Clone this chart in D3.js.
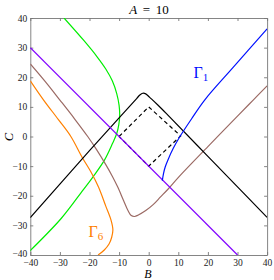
<!DOCTYPE html>
<html><head><meta charset="utf-8">
<script src="https://cdn.jsdelivr.net/npm/d3@7"></script>
<style>body{margin:0;background:#fff}svg{display:block}</style>
</head><body>
<script>
const ticksB = [-40,-30,-20,-10,0,10,20,30,40];
const ticksC = [-40,-30,-20,-10,0,10,20,30,40];

const blackSolid = [[-40,-27.4],[-20,-4.8],[-10,6.3],[-6,10.7],[-4,12.9],[-3,14.0],[-2,14.6],[-1,14.4],[0,13.5],[1,12.6],[3,10.7],[6,7.7],[20,-6.7],[40,-27.3]];
const blackDashed = [[-10,0],[0,10],[10.8,0.2],[0,-10],[-10,0]];
const purple = [[-40,30],[30,-40]];
const green = [[-28.6,40],[-22,32.5],[-17.5,27],[-14.5,22.8],[-12.3,18.8],[-10.8,14.5],[-10,10.5],[-9.8,7],[-10.1,4],[-10.8,1],[-12.2,-2.3],[-14.9,-7.9],[-18.8,-13.6],[-22.2,-18.1],[-29.5,-27.6],[-40.2,-38.7]];
const orange = [[-40,18.8],[-35.5,12.3],[-30.5,5.7],[-26.3,0],[-22.5,-7],[-19.5,-12],[-17,-17],[-14.5,-23.5],[-12.8,-28],[-12.1,-31.5],[-12.5,-34],[-13.4,-36.3],[-15,-38.3],[-17.1,-40]];
const brown = [[-40,24.5],[-35,18.6],[-30,12.3],[-25,5.9],[-20.6,0],[-17.5,-4.6],[-14.5,-9.5],[-12.3,-13.4],[-10.5,-17],[-8.5,-21.6],[-7.0,-25.0],[-5.9,-26.7],[-4.8,-27.0],[-3.5,-26.5],[-1,-25],[1.5,-23],[4,-20.4],[6.5,-17.8],[10.5,-13.3],[20,-3.4],[30,6.9],[35.3,12.3],[40,17.1]];
const blue = [[4.6,-14.9],[5.0,-12.5],[5.6,-10.2],[6.5,-7.9],[8.3,-4],[10.5,-0.1],[14.5,6.0],[18.9,12.3],[28.6,23.4],[40,36.3]];

const W = 274, H = 280;
const svg = d3.select("body").append("svg").attr("width", W).attr("height", H);
const x = d3.scaleLinear().domain([-40,40]).range([30.3,267.1]);
const y = d3.scaleLinear().domain([-40,40]).range([255,18]);

svg.append("defs").append("clipPath").attr("id","clip")
  .append("rect").attr("x",30.3).attr("y",18).attr("width",236.8).attr("height",237);

const axisColor = "#777";
const tickFont = "'Liberation Serif', 'DejaVu Serif', serif";
const fmt = d => d < 0 ? "\u2212" + Math.abs(d) : String(d);

const gB = svg.append("g").attr("transform","translate(0,255)")
  .call(d3.axisBottom(x).tickValues(ticksB).tickSizeInner(-3).tickSizeOuter(0).tickPadding(4).tickFormat(fmt));
const gT = svg.append("g").attr("transform","translate(0,18)")
  .call(d3.axisTop(x).tickValues(ticksB).tickSizeInner(-3).tickSizeOuter(0).tickFormat(""));
const gL = svg.append("g").attr("transform","translate(30.3,0)")
  .call(d3.axisLeft(y).tickValues(ticksC).tickSizeInner(-3).tickSizeOuter(0).tickPadding(3).tickFormat(fmt));
const gR = svg.append("g").attr("transform","translate(267.1,0)")
  .call(d3.axisRight(y).tickValues(ticksC).tickSizeInner(-3).tickSizeOuter(0).tickFormat(""));
[gB,gT,gL,gR].forEach(g => {
  g.selectAll("path").attr("stroke", axisColor).attr("stroke-width", 0.9);
  g.selectAll("line").attr("stroke", axisColor).attr("stroke-width", 0.9);
  g.selectAll("text").attr("fill", "#222").style("font-family", tickFont).style("font-size", "9.5px");
});
gL.selectAll("text").filter(d => d === -40).attr("dy", "0.2em");

const line = d3.line().x(d => x(d[0])).y(d => y(d[1])).curve(d3.curveCatmullRom.alpha(0.5));
const lin = d3.line().x(d => x(d[0])).y(d => y(d[1]));
const plot = svg.append("g").attr("clip-path","url(#clip)");

plot.append("path").datum(blackDashed).attr("d", lin).attr("fill","none").attr("stroke","#000").attr("stroke-width",1.2).attr("stroke-dasharray","4,3");
plot.append("path").datum(green).attr("d", line).attr("fill","none").attr("stroke","#00ee00").attr("stroke-width",1.2);
plot.append("path").datum(orange).attr("d", line).attr("fill","none").attr("stroke","#ff8000").attr("stroke-width",1.2);
plot.append("path").datum(brown).attr("d", line).attr("fill","none").attr("stroke","#9b6a64").attr("stroke-width",1.2);
plot.append("path").datum(blackSolid).attr("d", line).attr("fill","none").attr("stroke","#000").attr("stroke-width",1.2);
plot.append("path").datum(purple).attr("d", lin).attr("fill","none").attr("stroke","#8000ff").attr("stroke-width",1.2);
plot.append("path").datum(blue).attr("d", line).attr("fill","none").attr("stroke","#0011ff").attr("stroke-width",1.2);

const serif = "'Liberation Serif', 'DejaVu Serif', serif";
const t = svg.append("text").attr("x", 149).attr("y", 13.5).attr("text-anchor","middle")
  .style("font-family", serif).style("font-size","13px").attr("fill","#000");
t.append("tspan").style("font-style","italic").text("A");
t.append("tspan").attr("dx", 5.5).text("=");
t.append("tspan").attr("dx", 5.5).text("10");

svg.append("text").attr("x", 148).attr("y", 278).attr("text-anchor","middle")
  .style("font-family", serif).style("font-size","12px").style("font-style","italic").text("B");
svg.append("text").attr("transform","translate(13,137) rotate(-90)").attr("text-anchor","middle")
  .style("font-family", serif).style("font-size","12.5px").style("font-style","italic").text("C");

const g1 = svg.append("text").attr("x", 193.5).attr("y", 78).style("font-family", serif).style("font-size","16px").attr("fill","#0011ff");
g1.append("tspan").text("\u0393");
g1.append("tspan").attr("dy", 3).style("font-size","11px").text("1");
const g6 = svg.append("text").attr("x", 88.5).attr("y", 236.5).style("font-family", serif).style("font-size","16px").attr("fill","#ff8000");
g6.append("tspan").text("\u0393");
g6.append("tspan").attr("dy", 3).style("font-size","11px").text("6");
</script>
</body></html>
